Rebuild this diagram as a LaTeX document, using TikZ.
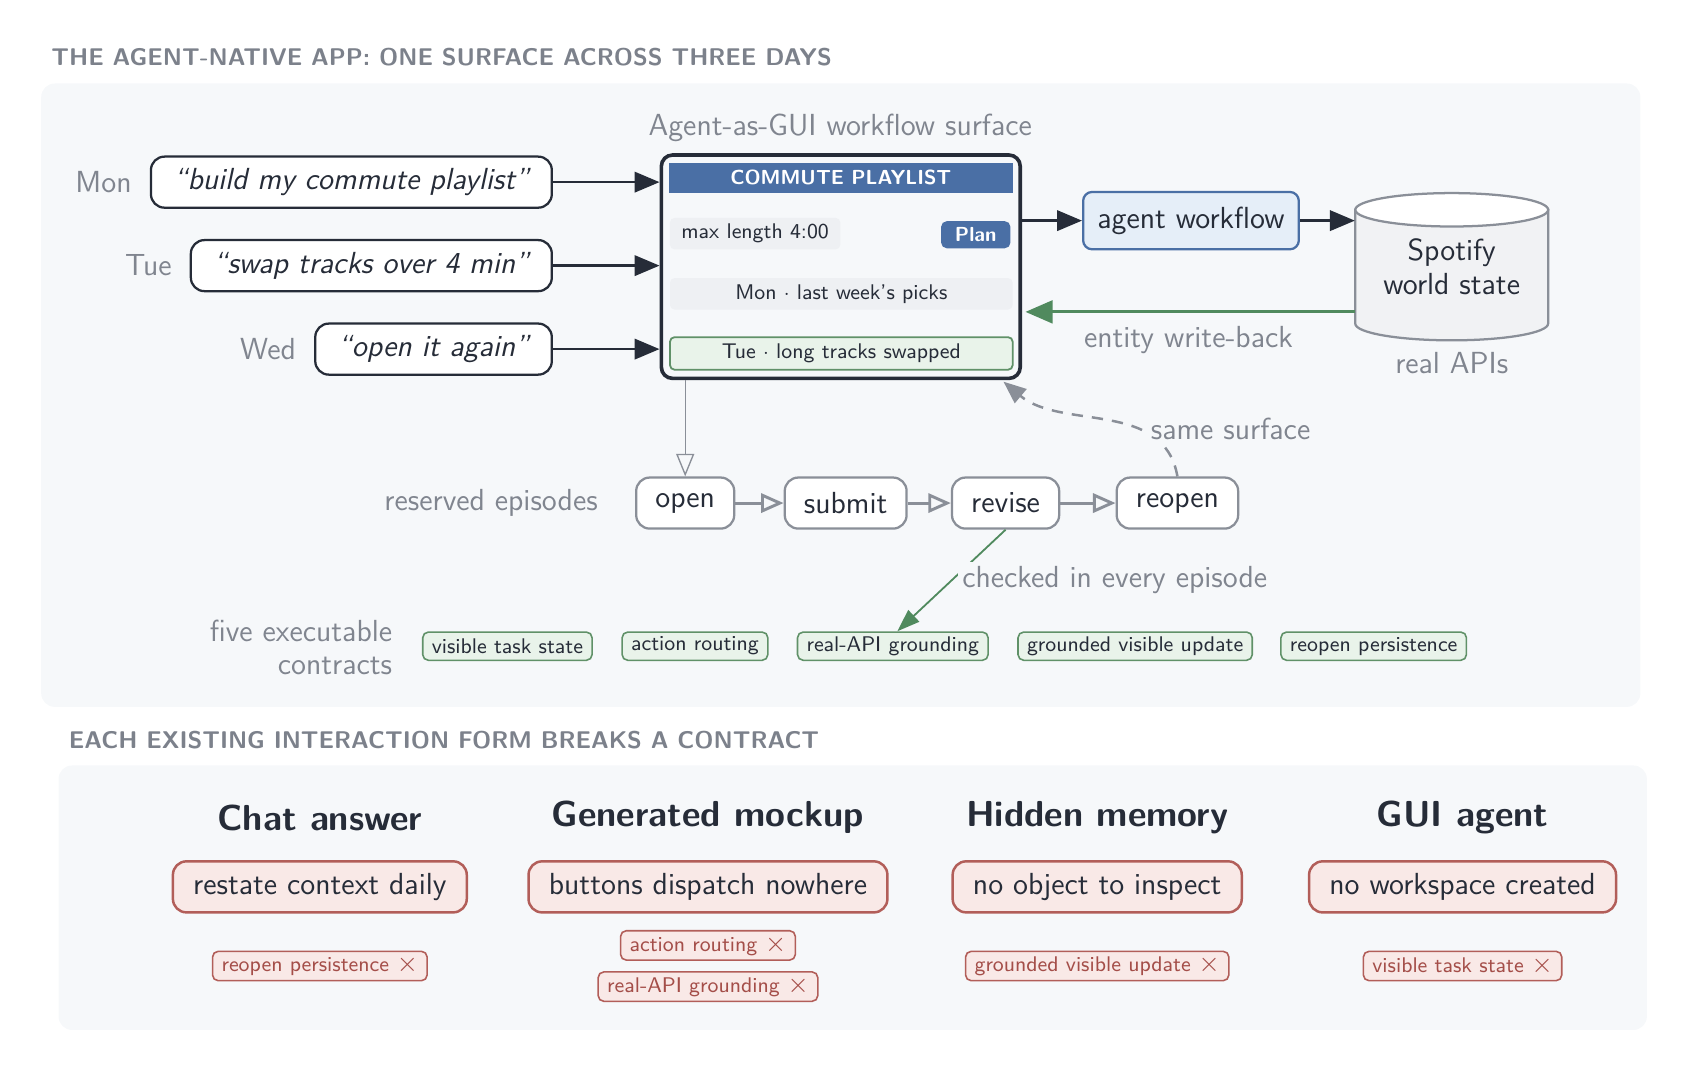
\documentclass[tikz,border=0pt]{standalone}
\usepackage{tikz}
\usetikzlibrary{arrows.meta,positioning}
\usepackage{xcolor}
\renewcommand{\familydefault}{\sfdefault}
\definecolor{panelbg}{RGB}{246,248,250}
\definecolor{inkdark}{RGB}{38,44,56}
\definecolor{labelgrey}{RGB}{128,133,143}
\definecolor{titlegrey}{RGB}{124,129,139}
\definecolor{edgegrey}{RGB}{138,143,152}
\definecolor{surfblue}{RGB}{74,111,165}
\definecolor{workblue}{RGB}{229,238,248}
\definecolor{okgreen}{RGB}{96,145,104}
\definecolor{okfill}{RGB}{233,243,234}
\definecolor{arrowgreen}{RGB}{80,138,94}
\definecolor{badred}{RGB}{178,94,89}
\definecolor{badfill}{RGB}{249,233,231}
\definecolor{badtext}{RGB}{164,78,73}
\definecolor{fieldgrey}{RGB}{238,240,243}
\definecolor{cylfill}{RGB}{241,242,244}
\newcommand{\fsz}[2]{\fontsize{#1}{#2}\selectfont}
\newcommand{\failx}{\hspace{3.5pt}\scalebox{1.3}{$\times$}}
\tikzset{
  sectitle/.style={anchor=west,inner sep=0pt,font=\fsz{10.7}{12}\bfseries,text=titlegrey},
  panel/.style={fill=panelbg,rounded corners=6pt},
  lbl/.style={font=\fsz{13.5}{14.5},text=labelgrey},
  prompt/.style={draw=inkdark,line width=1pt,fill=white,rounded corners=6pt,
                 minimum height=22.6pt,inner xsep=10pt,font=\fsz{13.5}{15}\itshape},
  surfacebox/.style={draw=inkdark,line width=1.6pt,fill=panelbg,rounded corners=5pt,
                 minimum width=158.9pt,minimum height=98.9pt},
  headbar/.style={fill=surfblue,text=white,font=\fsz{9}{11}\bfseries,inner sep=0pt,
                 minimum width=152.2pt,minimum height=13.4pt},
  field/.style={fill=fieldgrey,rounded corners=2pt,font=\fsz{9.4}{11},inner sep=0pt,
                 minimum height=13.9pt},
  planbtn/.style={fill=surfblue,text=white,font=\fsz{9}{11}\bfseries,rounded corners=2.5pt,
                 inner sep=0pt,minimum width=30.7pt,minimum height=12pt},
  okrow/.style={field,fill=okfill,draw=okgreen,line width=.8pt},
  workbox/.style={draw=surfblue,fill=workblue,line width=1pt,rounded corners=4pt,
                 minimum width=95.5pt,minimum height=25.4pt},
  episode/.style={draw=edgegrey,fill=white,line width=1pt,rounded corners=6pt,
                 minimum height=22.6pt,inner xsep=8.5pt},
  contract/.style={draw=okgreen,fill=okfill,line width=.7pt,rounded corners=2.5pt,
                 font=\fsz{9.4}{11},minimum height=12.5pt,inner xsep=4pt,inner ysep=0pt},
  formhead/.style={font=\fsz{16}{19}\bfseries},
  breakbox/.style={draw=badred,fill=badfill,line width=1.1pt,rounded corners=6pt,
                 minimum height=22.6pt,inner xsep=9pt},
  brokenpill/.style={draw=badred,fill=badfill,line width=.7pt,rounded corners=2.5pt,
                 font=\fsz{9.4}{11},text=badtext,minimum height=13pt,inner xsep=4pt,
                 inner ysep=0pt},
  feed/.style={-{Triangle[length=11pt,width=9pt]},draw=inkdark,line width=1.1pt},
  writeback/.style={-{Triangle[length=12pt,width=10pt]},draw=arrowgreen,line width=1.4pt},
  epiflow/.style={-{Triangle[open,length=10pt,width=8.5pt]},draw=edgegrey,line width=1.3pt},
  enter/.style={-{Triangle[open,length=10pt,width=8pt]},draw=edgegrey,line width=.6pt},
  sameback/.style={-{Triangle[length=10pt,width=8pt]},draw=edgegrey,line width=1.1pt,
                 dash pattern=on 5pt off 4pt},
  checks/.style={-{Triangle[length=10pt,width=7pt]},draw=arrowgreen,line width=.8pt},
}
\begin{document}
\begin{tikzpicture}[x=0.48pt,y=-0.48pt,font=\fsz{13.5}{15},text=inkdark]
  \useasboundingbox (0,0) rectangle (1568,989);
  \fill[panel] (38,77) rectangle (1513,652);
  \node[sectitle] (toptitle) at (47,53) {THE AGENT-NATIVE APP: ONE SURFACE ACROSS THREE DAYS};

  \node[prompt,anchor=east] (mon) at (510,168) {“build my commute playlist”};
  \node[prompt,anchor=east] (tue) at (510,245) {“swap tracks over 4 min”};
  \node[prompt,anchor=east] (wed) at (510,322) {“open it again”};
  \node[lbl,left=4.5pt of mon] (monlbl) {Mon};
  \node[lbl,left=4.5pt of tue] (tuelbl) {Tue};
  \node[lbl,left=4.5pt of wed] (wedlbl) {Wed};

  \node[surfacebox] (surface) at (775.5,246) {};
  \node[lbl] (surflbl) at (775,118) {Agent-as-GUI workflow surface};
  \node[headbar] (head) at (775.5,164) {COMMUTE PLAYLIST};
  \node[field,minimum width=75.4pt] (maxlen) at (696.5,215.5) {max length 4:00};
  \node[planbtn] (plan) at (900,216.5) {Plan};
  \node[field,minimum width=151.7pt] (monrow) at (776,271) {Mon $\cdot$ last week’s picks};
  \node[okrow,minimum width=151.7pt,minimum height=14.4pt] (tuerow) at (776,326)
    {Tue $\cdot$ long tracks swapped};
  \draw[feed] (mon) -- (mon -| surface.west);
  \draw[feed] (tue) -- (tue -| surface.west);
  \draw[feed] (wed) -- (wed -| surface.west);

  \node[workbox] (agent) at (1098.5,203.5) {agent workflow};
  \draw[fill=cylfill,draw=edgegrey,line width=1pt] (1250,193.5) -- (1250,298.5)
    arc[start angle=180,end angle=360,x radius=42.7pt,y radius=7.4pt] -- (1428,193.5) -- cycle;
  \draw[fill=white,draw=edgegrey,line width=1pt] (1339,193.5)
    ellipse[x radius=42.7pt,y radius=7.4pt];
  \node[align=center,minimum width=85.4pt,minimum height=50.4pt] (spotify) at (1339,246)
    {Spotify\\world state};
  \node[lbl] (apilbl) at (1339,335) {real APIs};
  \draw[feed] (agent -| surface.east) -- (agent);
  \draw[feed] (agent) -- (agent -| spotify.west);
  \coordinate (wb) at ([yshift=-20pt]spotify.west);
  \draw[writeback,shorten >=1.5pt] (wb) -- (wb -| surface.east)
    node[midway,below=2.5pt,lbl] {entity write-back};

  \node[episode] (open) at (632,464) {open};
  \node[episode] (submit) at (780,464) {submit};
  \node[episode] (revise) at (927.5,464) {revise};
  \node[episode] (reopen) at (1086,464) {reopen};
  \node[lbl,left=13pt of open] (epilbl) {reserved episodes};
  \foreach \a/\b in {open/submit,submit/revise,revise/reopen}
    \draw[epiflow] (\a) -- (\b);
  \draw[enter] (open.north |- surface.south) -- (open.north);
  \draw[sameback,shorten >=1pt] (reopen.north) to[out=100,in=-40]
    node[pos=.24,anchor=west,lbl,fill=panelbg,inner sep=1pt,yshift=3.5pt,xshift=-3pt]
    {same surface} ([xshift=-9pt]surface.south east);

  \node[contract] (taskstate) at (468,596) {visible task state};
  \node[contract] (routing) at (641,596) {action routing};
  \node[contract] (grounding) at (823.5,596) {real-API grounding};
  \node[contract] (update) at (1047,596) {grounded visible update};
  \node[contract] (persist) at (1267,596) {reopen persistence};
  \node[lbl,align=right,anchor=east] (contractlbl) at (369,597) {five executable\\contracts};
  \draw[checks] (revise.south) -- ([xshift=2pt]grounding.north)
    node[pos=.45,anchor=west,lbl,fill=panelbg,inner sep=2pt,yshift=-2pt]
    {checked in every episode};

  \fill[panel] (54,706) rectangle (1519,950);
  \node[sectitle] (bottitle) at (63,683) {EACH EXISTING INTERACTION FORM BREAKS A CONTRACT};
  \node[formhead] (chathead) at (295,754) {Chat answer};
  \node[formhead] (mockhead) at (653,754) {Generated mockup};
  \node[formhead] (memhead) at (1012,754) {Hidden memory};
  \node[formhead] (guihead) at (1349,754) {GUI agent};
  \node[breakbox] (chatbox) at (295,818) {restate context daily};
  \node[breakbox] (mockbox) at (653,818) {buttons dispatch nowhere};
  \node[breakbox] (membox) at (1012,818) {no object to inspect};
  \node[breakbox] (guibox) at (1349,818) {no workspace created};
  \node[brokenpill] (chatfail) at (295,891) {reopen persistence\failx};
  \node[brokenpill] (mockfaila) at (653,872) {action routing\failx};
  \node[brokenpill] (mockfailb) at (653,910) {real-API grounding\failx};
  \node[brokenpill] (memfail) at (1012,891) {grounded visible update\failx};
  \node[brokenpill] (guifail) at (1349,891) {visible task state\failx};
\end{tikzpicture}
\end{document}
